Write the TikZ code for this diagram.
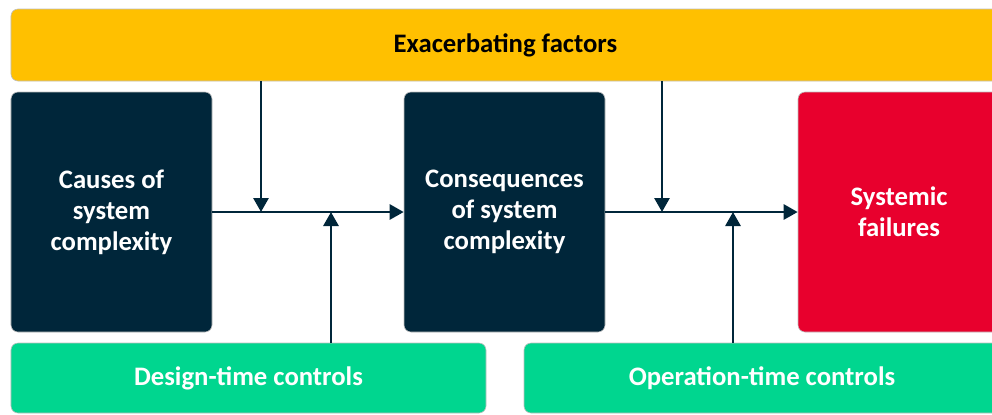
\documentclass[tikz,border=0pt]{standalone}
\usepackage{fontspec}
\setmainfont{Carlito}
\usetikzlibrary{arrows.meta}
\definecolor{yel}{HTML}{FFC000}
\definecolor{navy}{HTML}{00263A}
\definecolor{redb}{HTML}{E8002D}
\definecolor{grn}{HTML}{00D68F}
\tikzset{
  box/.style={rectangle, rounded corners=7bp, draw=gray!50, line width=0.6bp, inner sep=0pt, align=center,
    font=\fontsize{26.8}{31.1}\selectfont\bfseries},
  conn/.style={draw=navy, line width=2.8bp, -{Triangle[length=14bp,width=15bp]}},
}
\begin{document}
\begin{tikzpicture}[x=1bp,y=-1bp]
\useasboundingbox (0,0) rectangle (992,414);
\clip (0,0) rectangle (992,414);
\node[box, fill=yel, text=black, minimum width=989bp, minimum height=72bp] (ex) at (505.5,45) {Exacerbating factors};
\node[box, fill=navy, text=white, minimum width=201bp, minimum height=240bp] (cause) at (111.5,212) {Causes of\\system\\complexity};
\node[box, fill=navy, text=white, minimum width=201bp, minimum height=240bp] (cons) at (504.5,212) {Consequences\\of system\\complexity};
\node[box, fill=redb, text=white, minimum width=202bp, minimum height=240bp] (fail) at (899,212) {Systemic\\failures};
\node[box, fill=grn, text=white, minimum width=475bp, minimum height=70bp] (dtc) at (248.5,378) {Design-time controls};
\node[box, fill=grn, text=white, minimum width=476bp, minimum height=70bp] (otc) at (762,378) {Operation-time controls};
\coordinate (j1) at (261,212);
\coordinate (k1) at (331,212);
\coordinate (j2) at (662,212);
\coordinate (k2) at (733,212);
\draw[conn] (cause.east) -- (cons.west);
\draw[conn] (cons.east) -- (fail.west);
\draw[conn] (ex.south -| j1) -- (j1);
\draw[conn] (dtc.north -| k1) -- (k1);
\draw[conn] (ex.south -| j2) -- (j2);
\draw[conn] (otc.north -| k2) -- (k2);
\end{tikzpicture}
\end{document}
